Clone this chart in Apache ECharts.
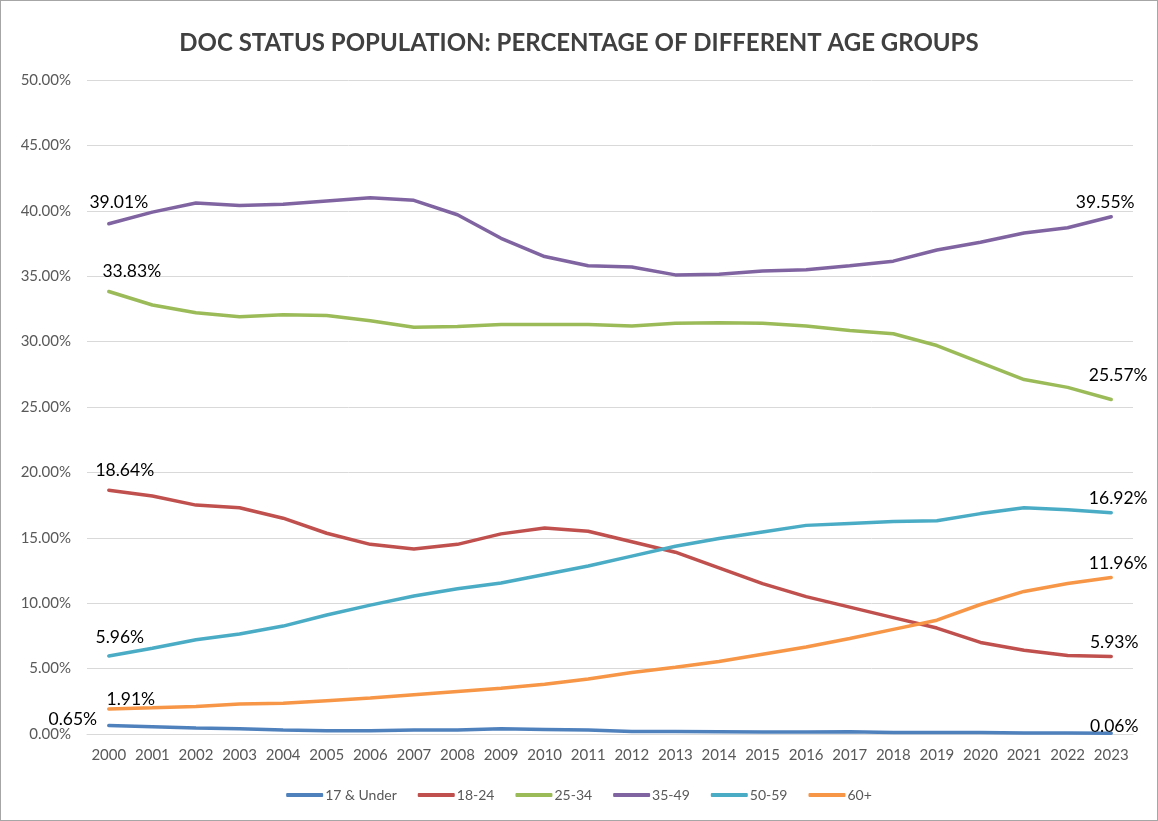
<!DOCTYPE html>
<html>
<head>
<meta charset="utf-8">
<title>DOC Status Population</title>
<script src="https://cdn.jsdelivr.net/npm/echarts@6/dist/echarts.min.js"></script>
</head>
<body style="margin:0;background:#fff;">
<div id="main" style="width:1156px;height:819px;border:1px solid #a6a6a6;"></div>
<script type="text/javascript">
var years = ['2000','2001','2002','2003','2004','2005','2006','2007','2008','2009','2010','2011',
  '2012','2013','2014','2015','2016','2017','2018','2019','2020','2021','2022','2023'];

var under17 = [0.65,0.55,0.45,0.40,0.30,0.25,0.25,0.30,0.30,0.40,0.35,0.30,
  0.20,0.20,0.18,0.16,0.15,0.17,0.12,0.12,0.12,0.08,0.07,0.06];
var age18_24 = [18.64,18.2,17.5,17.3,16.5,15.35,14.5,14.15,14.5,15.3,15.75,15.5,
  14.7,13.9,12.7,11.5,10.5,9.7,8.9,8.1,7.0,6.4,6.0,5.93];
var age25_34 = [33.83,32.8,32.2,31.9,32.05,32.0,31.6,31.1,31.15,31.3,31.3,31.3,
  31.2,31.4,31.45,31.4,31.2,30.85,30.6,29.7,28.4,27.1,26.5,25.57];
var age35_49 = [39.01,39.9,40.6,40.4,40.5,40.75,41.0,40.8,39.7,37.9,36.5,35.8,
  35.7,35.1,35.15,35.4,35.5,35.8,36.15,37.0,37.6,38.3,38.7,39.55];
var age50_59 = [5.96,6.55,7.2,7.65,8.25,9.1,9.85,10.55,11.1,11.55,12.2,12.85,
  13.6,14.35,14.95,15.45,15.95,16.1,16.25,16.3,16.85,17.3,17.15,16.92];
var age60 = [1.91,2.0,2.1,2.3,2.35,2.55,2.75,3.0,3.25,3.5,3.8,4.2,
  4.7,5.1,5.55,6.1,6.65,7.3,8.0,8.7,9.9,10.9,11.5,11.96];

var names = ['17 & Under','18-24','25-34','35-49','50-59','60+'];
var colors = ['#4f81bd','#c0504d','#9bbb59','#8064a2','#4bacc6','#f79646'];
var allData = [under17, age18_24, age25_34, age35_49, age50_59, age60];

// label offsets for the first / last point of each series
var firstOffset = [[-36,8],[16,-6],[23,-6],[10,-7],[11,-5],[22,4]];
var lastOffset = [[3,7],[3,0],[7,-10],[-6,0],[7,0],[7,0]];

function withLabels(arr, i) {
  return arr.map(function (v, j) {
    if (j === 0 || j === arr.length - 1) {
      return {
        value: v,
        label: {
          show: true,
          position: 'top',
          offset: j === 0 ? firstOffset[i] : lastOffset[i],
          formatter: function (p) { return p.value.toFixed(2) + '%'; },
          color: '#000',
          fontSize: 17.5,
          fontFamily: 'Lato'
        }
      };
    }
    return v;
  });
}

var series = names.map(function (n, i) {
  return {
    name: n,
    type: 'line',
    data: withLabels(allData[i], i),
    symbol: 'circle',
    symbolSize: 0,
    showSymbol: true,
    smooth: false,
    lineStyle: { width: 3.5, color: colors[i], cap: 'round' },
    itemStyle: { color: colors[i] }
  };
});

var myChart = echarts.init(document.getElementById('main'));
myChart.setOption({
  animation: false,
  color: colors,
  textStyle: { fontFamily: 'Lato' },
  title: {
    text: 'DOC STATUS POPULATION: PERCENTAGE OF DIFFERENT AGE GROUPS',
    left: 'center',
    top: 25,
    textStyle: { fontSize: 24, fontWeight: 'bold', color: '#404040', fontFamily: 'Lato' }
  },
  legend: {
    bottom: 13,
    left: 'center',
    itemWidth: 37,
    itemHeight: 4,
    itemGap: 21,
    icon: 'roundRect',
    textStyle: { fontSize: 14, color: '#595959', fontFamily: 'Lato', padding: [0, 0, 0, -3] },
    data: names
  },
  grid: { left: 86, right: 24, top: 79, bottom: 86 },
  xAxis: {
    type: 'category',
    data: years,
    boundaryGap: true,
    axisTick: { show: false },
    axisLine: { lineStyle: { color: '#d9d9d9' } },
    axisLabel: { color: '#595959', fontSize: 15, margin: 14, interval: 0 }
  },
  yAxis: {
    type: 'value',
    min: 0,
    max: 50,
    interval: 5,
    axisLabel: {
      color: '#595959',
      fontSize: 15,
      margin: 16,
      formatter: function (v) { return v.toFixed(2) + '%'; }
    },
    splitLine: { lineStyle: { color: '#d9d9d9', width: 1 } }
  },
  series: series
});
</script>
</body>
</html>
